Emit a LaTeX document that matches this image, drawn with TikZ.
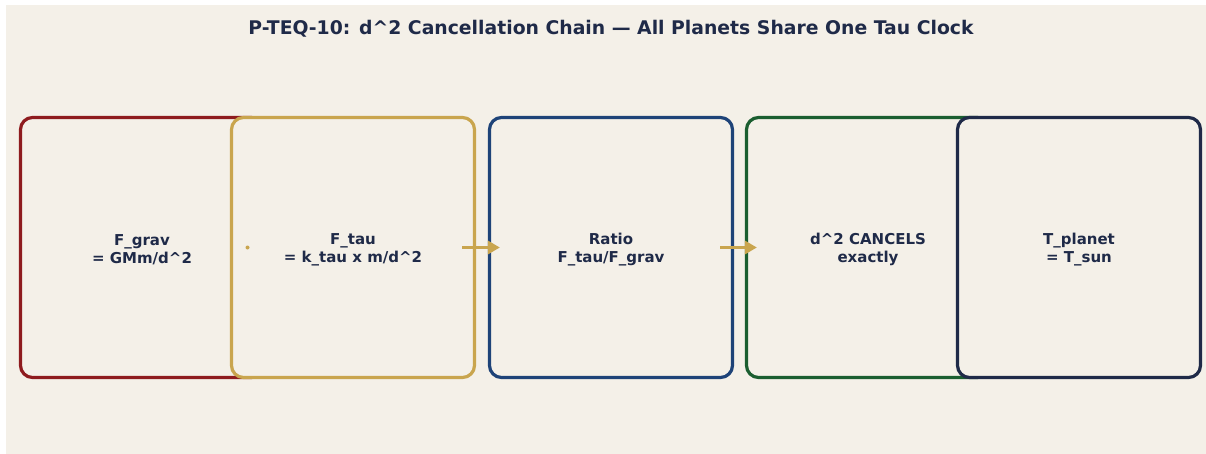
\documentclass[tikz,border=0pt]{standalone}
\usepackage{fontspec}
\setmainfont{DejaVu Sans}
\usetikzlibrary{arrows.meta,calc}
\definecolor{bg}{HTML}{F4F0E8}
\definecolor{cred}{HTML}{8E1B1E}
\definecolor{cgold}{HTML}{C9A54E}
\definecolor{cblue}{HTML}{1E4378}
\definecolor{cgreen}{HTML}{1B5E30}
\definecolor{cnavy}{HTML}{1F2A48}
\tikzset{
  box/.style={draw=#1, line width=3.2pt, rounded corners=12pt, fill=bg,
    minimum width=243pt, minimum height=260pt, inner sep=0pt,
    text=cnavy, font=\bfseries\fontsize{15}{18.5}\selectfont, align=center},
  flow/.style={draw=cgold, line width=3.4pt, -{Triangle[length=12pt,width=13pt]}},
  x=1pt, y=-1pt
}
\begin{document}
\begin{tikzpicture}
\useasboundingbox (0,0) rectangle (1206,454);
\fill[white] (0,0) rectangle (1206,454);
\fill[bg] (6,5) rectangle (1206,454);
\node[text=cnavy, font=\bfseries\fontsize{18.8}{22}\selectfont] (title) at (611,28.5) {P-TEQ-10: d\^{}2 Cancellation Chain — All Planets Share One Tau Clock};
\node[box=cred] (b1) at (142,247.5) {\\[-3pt]F\_grav\\= GMm/d\^{}2};
\node[box=cgold] (b2) at (353,247.5) {\\[-3pt]F\_tau\\= k\_tau x m/d\^{}2};
\node[box=cblue] (b3) at (611,247.5) {\\[-3pt]Ratio\\F\_tau/F\_grav};
\node[box=cgreen] (b4) at (868,247.5) {\\[-3pt]d\^{}2 CANCELS\\exactly};
\node[box=cnavy] (b5) at (1079,247.5) {\\[-3pt]T\_planet\\= T\_sun};
\coordinate (dot) at ($(b1)!0.5!(b2)$);
\fill[cgold] (dot) circle (2pt);
\coordinate (a1) at ([xshift=-14pt]b2.east);
\coordinate (a2) at ([xshift=-14pt]b3.east);
\coordinate (t1) at ([xshift=12pt]b3.west);
\coordinate (t2) at ([xshift=12pt]b4.west);
\draw[flow] (a1) -- (t1);
\draw[flow] (a2) -- (t2);
\end{tikzpicture}
\end{document}
